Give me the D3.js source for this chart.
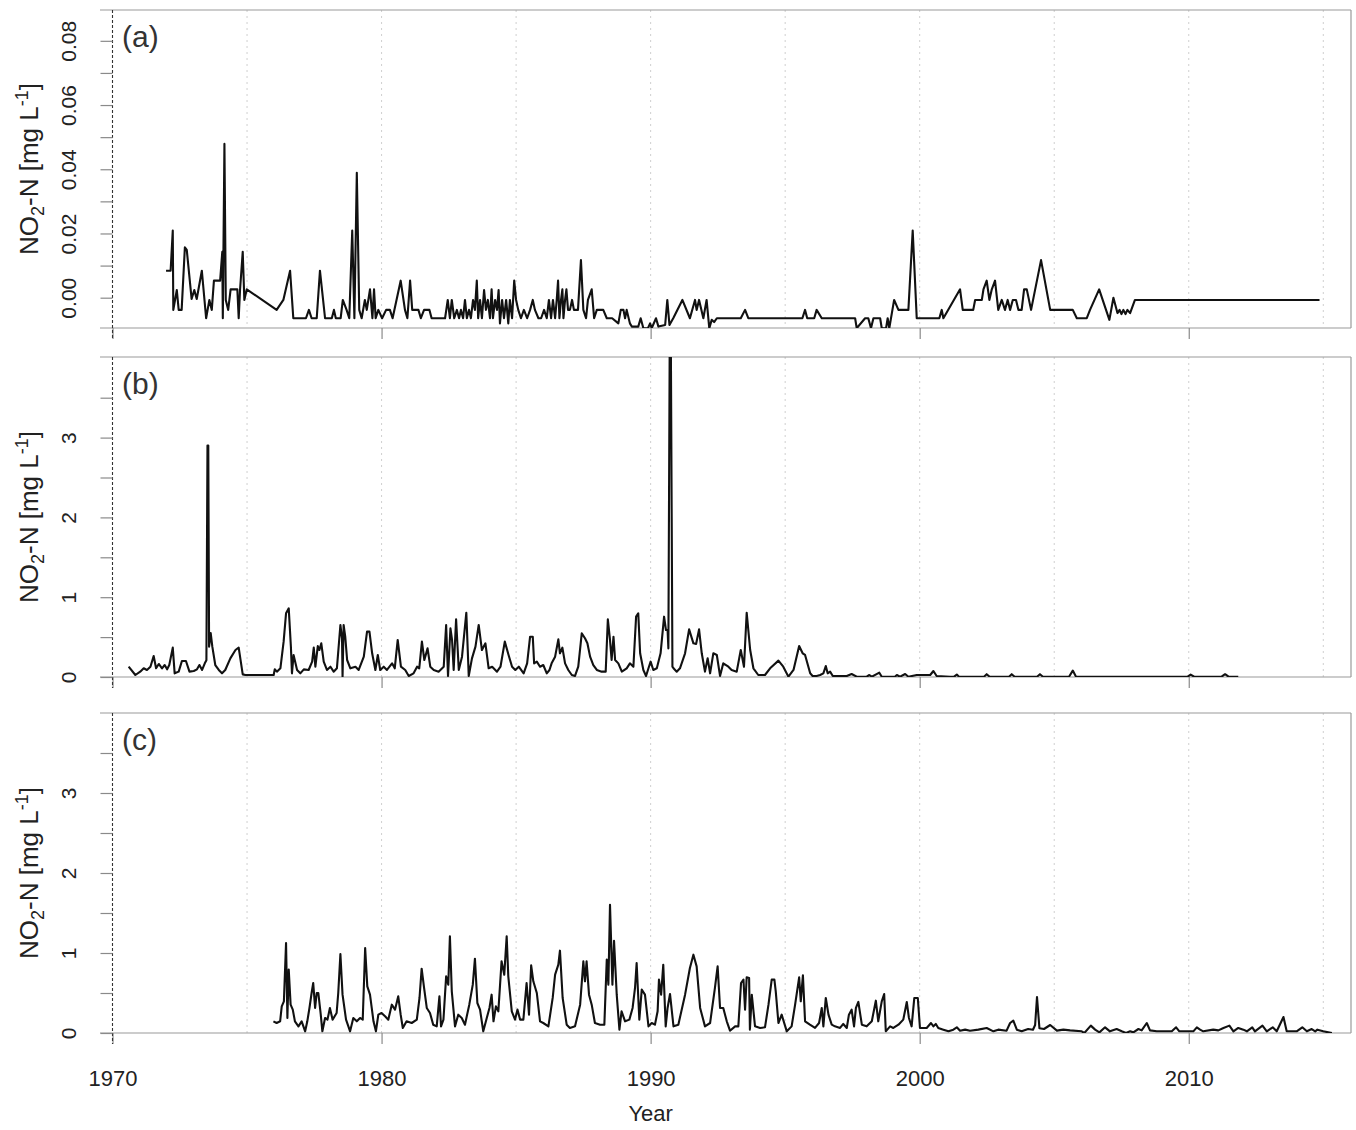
<!DOCTYPE html>
<html>
<head>
<meta charset="utf-8">
<script src="https://d3js.org/d3.v7.min.js"></script>
<style>
  body { margin: 0; background: #fff; }
  svg { display: block; font-family: "Liberation Sans", Arial, sans-serif; }
</style>
</head>
<body>
<div id="chart"></div>
<script>
// decimal year, NO2-N value
const seriesA = [
  [1971.99,0.0084],[1972.16,0.0084],[1972.24,0.0209],[1972.26,-0.0038],[1972.39,0.0024],[1972.46,-0.0038],[1972.57,-0.0038],[1972.69,0.0157],[1972.76,0.0149],[1972.94,-0.0004],[1973.04,0.0024],[1973.13,-0.0004],[1973.32,0.0084],[1973.48,-0.0064],[1973.60,-0.0007],[1973.69,-0.0038],[1973.77,0.0053],[1974.00,0.0053],[1974.08,0.0143],[1974.10,-0.0064],[1974.16,0.0479],[1974.21,-0.0007],[1974.30,-0.0038],[1974.39,0.0026],[1974.64,0.0026],[1974.69,-0.0064],[1974.74,0.0024],[1974.84,0.0143],[1974.90,-0.0007],[1974.99,0.0026],
  [1976.10,-0.0038],[1976.35,-0.0007],[1976.60,0.0084],[1976.72,-0.0064],[1977.19,-0.0064],[1977.30,-0.0038],[1977.40,-0.0064],[1977.59,-0.0064],[1977.71,0.0084],[1977.90,-0.0064],[1978.15,-0.0064],[1978.23,-0.0038],[1978.30,-0.0064],[1978.48,-0.0064],[1978.56,-0.0007],[1978.70,-0.0038],[1978.80,-0.0064],[1978.91,0.0209],[1978.99,-0.0064],[1979.08,0.0389],[1979.17,-0.0038],[1979.26,-0.0064],[1979.38,-0.0007],[1979.45,-0.0038],[1979.57,0.0026],[1979.66,-0.0064],[1979.72,0.0026],[1979.78,-0.0064],[1979.88,-0.0038],
  [1980.02,-0.0064],[1980.17,-0.0038],[1980.31,-0.0038],[1980.41,-0.0064],[1980.71,0.0053],[1980.87,-0.0038],[1980.96,-0.0064],[1981.06,0.0053],[1981.14,-0.0038],[1981.37,-0.0038],[1981.46,-0.0064],[1981.58,-0.0038],[1981.78,-0.0038],[1981.86,-0.0064],[1982.36,-0.0064],
  [1982.46,-0.0007],[1982.54,-0.0064],[1982.61,-0.0007],[1982.70,-0.0064],[1982.80,-0.0038],[1982.88,-0.0064],[1982.95,-0.0038],[1983.03,-0.0064],[1983.10,-0.0007],[1983.17,-0.0064],[1983.25,-0.0038],[1983.32,-0.0064],[1983.40,-0.0007],[1983.47,-0.0038],[1983.54,0.0053],[1983.59,-0.0064],[1983.66,-0.0007],[1983.73,-0.0064],[1983.81,0.0024],[1983.88,-0.0038],[1983.95,-0.0007],
  [1984.03,-0.0064],[1984.09,0.0026],[1984.14,-0.0064],[1984.22,-0.0007],[1984.29,-0.0038],[1984.35,0.0024],[1984.40,-0.0080],[1984.48,-0.0007],[1984.55,-0.0064],[1984.63,-0.0007],[1984.71,-0.0080],[1984.77,-0.0007],[1984.85,-0.0064],[1984.93,0.0053],[1985.00,-0.0007],[1985.08,-0.0038],[1985.18,-0.0064],[1985.29,-0.0038],[1985.41,-0.0064],[1985.52,-0.0038],[1985.62,-0.0007],[1985.70,-0.0038],[1985.83,-0.0064],[1985.93,-0.0064],
  [1986.04,-0.0038],[1986.14,-0.0064],[1986.22,-0.0007],[1986.30,-0.0064],[1986.37,-0.0007],[1986.45,-0.0064],[1986.51,-0.0007],[1986.56,0.0053],[1986.61,-0.0064],[1986.67,-0.0007],[1986.72,0.0026],[1986.76,-0.0064],[1986.82,-0.0007],[1986.87,0.0026],[1986.93,-0.0038],[1987.00,-0.0038],[1987.08,-0.0007],[1987.15,-0.0038],[1987.23,-0.0038],[1987.30,-0.0038],[1987.41,0.0117],[1987.50,-0.0038],[1987.60,-0.0064],[1987.67,-0.0007],[1987.81,0.0026],[1987.90,-0.0064],
  [1988.00,-0.0038],[1988.24,-0.0038],[1988.37,-0.0064],[1988.57,-0.0064],[1988.80,-0.0080],[1988.89,-0.0038],[1988.99,-0.0038],[1989.05,-0.0064],[1989.11,-0.0038],[1989.23,-0.0080],[1989.30,-0.0090],[1989.54,-0.0090],[1989.63,-0.0064],[1989.73,-0.0095],[1989.90,-0.0095],[1989.98,-0.0080],[1990.04,-0.0095],[1990.20,-0.0064],[1990.29,-0.0090],[1990.54,-0.0085],[1990.62,-0.0007],[1990.70,-0.0085],[1990.84,-0.0064],
  [1991.18,-0.0007],[1991.46,-0.0064],[1991.65,-0.0007],[1991.71,-0.0038],[1991.80,-0.0007],[1991.96,-0.0064],[1992.08,-0.0007],[1992.18,-0.0095],[1992.27,-0.0069],[1992.36,-0.0076],[1992.46,-0.0064],[1993.35,-0.0064],[1993.51,-0.0038],[1993.63,-0.0064],[1995.64,-0.0064],[1995.74,-0.0038],[1995.82,-0.0064],[1996.08,-0.0064],[1996.17,-0.0038],[1996.36,-0.0064],
  [1997.60,-0.0064],[1997.66,-0.0095],[1997.97,-0.0064],[1998.09,-0.0064],[1998.19,-0.0095],[1998.28,-0.0064],[1998.53,-0.0064],[1998.59,-0.0095],[1998.75,-0.0095],[1998.81,-0.0064],[1998.87,-0.0095],[1999.05,-0.0007],[1999.21,-0.0038],[1999.58,-0.0038],[1999.74,0.0209],[1999.89,-0.0064],
  [2000.73,-0.0064],[2000.82,-0.0038],[2000.88,-0.0064],[2001.50,0.0026],[2001.60,-0.0038],[2001.99,-0.0038],[2002.06,-0.0007],[2002.31,-0.0007],[2002.37,0.0026],[2002.49,0.0053],[2002.59,-0.0007],[2002.68,0.0026],[2002.80,0.0053],[2002.92,-0.0038],[2003.05,-0.0007],[2003.17,-0.0038],[2003.27,-0.0007],[2003.36,-0.0038],[2003.46,-0.0007],[2003.58,-0.0007],[2003.67,-0.0038],[2003.79,-0.0038],[2003.88,0.0026],[2003.98,0.0026],
  [2004.14,-0.0038],[2004.51,0.0117],[2004.85,-0.0038],[2005.69,-0.0038],[2005.84,-0.0064],[2006.21,-0.0064],[2006.33,-0.0038],[2006.67,0.0026],[2007.05,-0.0069],[2007.20,0.0000],[2007.35,-0.0048],[2007.43,-0.0038],[2007.50,-0.0051],[2007.57,-0.0038],[2007.65,-0.0051],[2007.72,-0.0038],[2007.82,-0.0048],[2008.00,-0.0007],[2014.86,-0.0007]
];

const seriesB = [
  [1970.60,0.13],[1970.85,0.025],[1971.03,0.067],[1971.16,0.109],[1971.28,0.088],[1971.41,0.129],[1971.53,0.263],[1971.62,0.109],[1971.72,0.163],[1971.84,0.109],[1971.94,0.15],[1972.03,0.096],[1972.11,0.15],[1972.24,0.368],[1972.31,0.046],[1972.46,0.067],[1972.58,0.2],[1972.73,0.2],[1972.86,0.067],
  [1973.02,0.075],[1973.14,0.096],[1973.23,0.15],[1973.33,0.088],[1973.43,0.171],[1973.49,0.21],[1973.53,2.9],[1973.56,2.9],[1973.59,0.38],[1973.65,0.55],[1973.71,0.38],[1973.82,0.15],[1973.95,0.088],[1974.07,0.046],[1974.19,0.088],[1974.38,0.234],[1974.57,0.338],[1974.69,0.368],[1974.84,0.033],[1974.94,0.025],
  [1975.99,0.025],[1976.03,0.096],[1976.11,0.067],[1976.24,0.109],[1976.36,0.443],[1976.45,0.798],[1976.55,0.86],[1976.63,0.38],[1976.67,0.046],[1976.73,0.276],[1976.86,0.088],[1976.98,0.046],[1977.11,0.096],[1977.29,0.088],[1977.42,0.192],[1977.48,0.368],[1977.54,0.129],[1977.63,0.388],[1977.69,0.338],[1977.76,0.422],[1977.85,0.192],[1977.97,0.088],
  [1978.10,0.129],[1978.22,0.067],[1978.34,0.109],[1978.47,0.652],[1978.53,0.485],[1978.55,0.004],[1978.59,0.652],[1978.65,0.505],[1978.72,0.213],[1978.84,0.109],[1979.03,0.129],[1979.15,0.088],[1979.34,0.255],[1979.46,0.568],[1979.55,0.568],[1979.65,0.297],[1979.77,0.088],[1979.86,0.276],[1979.95,0.088],
  [1980.08,0.129],[1980.20,0.088],[1980.39,0.171],[1980.49,0.109],[1980.60,0.464],[1980.72,0.129],[1980.88,0.088],[1981.01,0.013],[1981.19,0.046],[1981.32,0.129],[1981.40,0.109],[1981.50,0.443],[1981.59,0.213],[1981.71,0.359],[1981.81,0.129],[1981.94,0.088],
  [1982.12,0.067],[1982.31,0.129],[1982.40,0.652],[1982.47,0.013],[1982.56,0.61],[1982.62,0.464],[1982.68,0.088],[1982.77,0.723],[1982.87,0.088],[1982.99,0.255],[1983.15,0.806],[1983.24,0.013],[1983.36,0.234],[1983.49,0.38],[1983.61,0.652],[1983.73,0.338],[1983.86,0.422],[1983.98,0.109],
  [1984.11,0.129],[1984.29,0.067],[1984.42,0.129],[1984.58,0.443],[1984.72,0.276],[1984.85,0.129],[1984.97,0.088],[1985.10,0.129],[1985.28,0.046],[1985.41,0.171],[1985.52,0.505],[1985.62,0.505],[1985.67,0.171],[1985.77,0.192],[1985.89,0.129],
  [1986.01,0.15],[1986.14,0.046],[1986.24,0.088],[1986.32,0.171],[1986.45,0.255],[1986.57,0.472],[1986.63,0.297],[1986.72,0.368],[1986.82,0.171],[1986.94,0.088],[1987.07,0.025],[1987.19,0.013],[1987.31,0.129],[1987.44,0.547],[1987.56,0.485],[1987.65,0.422],[1987.75,0.255],[1987.87,0.15],
  [1988.00,0.088],[1988.18,0.067],[1988.33,0.067],[1988.41,0.723],[1988.49,0.464],[1988.55,0.213],[1988.62,0.505],[1988.68,0.213],[1988.80,0.171],[1988.93,0.067],[1989.11,0.109],[1989.23,0.171],[1989.36,0.129],[1989.46,0.756],[1989.54,0.798],[1989.61,0.297],[1989.73,0.088],[1989.83,0.013],[1989.92,0.109],
  [1990.00,0.192],[1990.10,0.088],[1990.23,0.109],[1990.37,0.297],[1990.50,0.756],[1990.57,0.589],[1990.63,0.589],[1990.66,0.359],[1990.71,4.3],[1990.75,4.3],[1990.81,0.13],[1990.85,0.109],[1990.97,0.067],
  [1991.09,0.109],[1991.28,0.297],[1991.43,0.597],[1991.59,0.422],[1991.69,0.414],[1991.80,0.597],[1991.90,0.297],[1992.02,0.067],[1992.12,0.234],[1992.21,0.046],[1992.33,0.297],[1992.46,0.276],[1992.58,0.013],[1992.70,0.171],[1992.89,0.129],
  [1993.01,0.088],[1993.20,0.067],[1993.35,0.338],[1993.47,0.129],[1993.57,0.806],[1993.70,0.338],[1993.82,0.109],[1994.00,0.025],[1994.25,0.025],[1994.44,0.109],[1994.75,0.205],[1994.93,0.129],[1995.12,0.004],[1995.31,0.088],[1995.52,0.388],[1995.65,0.297],[1995.74,0.276],[1995.93,0.046],
  [1996.02,0.013],[1996.17,0.013],[1996.30,0.025],[1996.42,0.046],[1996.51,0.138],[1996.58,0.046],[1996.67,0.067],[1996.77,0.013],[1997.29,0.013],[1997.47,0.038],[1997.66,0.004],[1998.03,0.004],[1998.13,0.025],[1998.22,0.004],[1998.50,0.054],[1998.59,0.004],
  [1999.08,0.004],[1999.15,0.025],[1999.27,0.004],[1999.46,0.038],[1999.58,0.004],[1999.89,0.025],[2000.26,0.025],[2000.39,0.025],[2000.51,0.075],[2000.63,0.013],[2001.13,0.004],[2001.28,0.004],[2001.38,0.03],[2001.46,0.004],
  [2002.39,0.004],[2002.49,0.035],[2002.60,0.004],[2003.32,0.004],[2003.42,0.035],[2003.53,0.004],[2004.36,0.004],[2004.47,0.035],[2004.58,0.004],[2005.55,0.004],[2005.69,0.08],[2005.81,0.004],
  [2009.96,0.004],[2010.07,0.03],[2010.20,0.004],[2011.22,0.004],[2011.35,0.035],[2011.48,0.004],[2011.84,0.004]
];

const seriesC = [
  [1975.98,0.146],[1976.10,0.125],[1976.23,0.146],[1976.29,0.333],[1976.37,0.396],[1976.45,1.125],[1976.50,0.188],[1976.55,0.792],[1976.62,0.354],[1976.70,0.292],[1976.78,0.146],[1976.91,0.083],[1977.03,0.146],[1977.16,0.021],[1977.24,0.146],[1977.32,0.313],[1977.40,0.5],[1977.46,0.625],[1977.53,0.313],[1977.59,0.5],[1977.65,0.5],[1977.74,0.229],[1977.80,0.021],[1977.90,0.188],[1977.99,0.167],
  [1978.08,0.313],[1978.18,0.167],[1978.33,0.25],[1978.39,0.5],[1978.47,0.988],[1978.55,0.479],[1978.68,0.167],[1978.83,0.021],[1978.95,0.188],[1979.08,0.146],[1979.20,0.188],[1979.30,0.167],[1979.39,1.063],[1979.47,0.583],[1979.57,0.479],[1979.70,0.146],[1979.79,0.021],[1979.88,0.229],
  [1980.00,0.25],[1980.13,0.208],[1980.25,0.167],[1980.38,0.354],[1980.50,0.292],[1980.62,0.458],[1980.71,0.229],[1980.79,0.063],[1980.93,0.146],[1981.12,0.125],[1981.31,0.167],[1981.41,0.438],[1981.49,0.804],[1981.58,0.563],[1981.68,0.313],[1981.80,0.25],[1981.92,0.104],
  [1982.05,0.083],[1982.15,0.458],[1982.21,0.083],[1982.30,0.167],[1982.40,0.708],[1982.48,0.604],[1982.54,1.208],[1982.61,0.521],[1982.73,0.083],[1982.85,0.229],[1982.98,0.188],[1983.10,0.104],[1983.26,0.354],[1983.39,0.604],[1983.47,0.929],[1983.56,0.375],[1983.66,0.292],[1983.78,0.021],[1983.91,0.188],
  [1984.01,0.313],[1984.09,0.479],[1984.16,0.146],[1984.25,0.333],[1984.34,0.271],[1984.46,0.896],[1984.56,0.729],[1984.65,1.208],[1984.71,0.708],[1984.84,0.271],[1984.96,0.167],[1985.05,0.292],[1985.15,0.167],[1985.27,0.167],[1985.39,0.625],[1985.48,0.229],[1985.56,0.846],[1985.64,0.646],[1985.77,0.5],[1985.89,0.146],
  [1986.01,0.125],[1986.20,0.083],[1986.36,0.438],[1986.45,0.729],[1986.57,0.854],[1986.63,1.029],[1986.73,0.438],[1986.88,0.104],[1987.00,0.063],[1987.19,0.083],[1987.38,0.354],[1987.50,0.896],[1987.56,0.646],[1987.62,0.896],[1987.71,0.479],[1987.81,0.354],[1987.93,0.125],
  [1988.12,0.104],[1988.28,0.104],[1988.37,0.917],[1988.43,0.604],[1988.49,1.604],[1988.58,0.604],[1988.64,1.154],[1988.74,0.479],[1988.84,0.042],[1988.92,0.271],[1989.05,0.146],[1989.21,0.167],[1989.33,0.313],[1989.42,0.563],[1989.48,0.875],[1989.58,0.167],[1989.67,0.542],[1989.79,0.479],[1989.92,0.083],
  [1990.04,0.125],[1990.16,0.104],[1990.26,0.271],[1990.31,0.667],[1990.39,0.479],[1990.47,0.854],[1990.56,0.083],[1990.63,0.313],[1990.72,0.488],[1990.85,0.083],[1991.03,0.104],[1991.28,0.479],[1991.46,0.813],[1991.59,0.979],[1991.71,0.833],[1991.84,0.313],
  [1992.02,0.083],[1992.21,0.125],[1992.39,0.563],[1992.49,0.833],[1992.58,0.313],[1992.70,0.313],[1992.83,0.146],[1992.95,0.029],[1993.14,0.083],[1993.26,0.083],[1993.36,0.625],[1993.45,0.667],[1993.51,0.292],[1993.57,0.696],[1993.66,0.688],[1993.69,0.042],[1993.76,0.479],[1993.88,0.083],
  [1994.07,0.063],[1994.25,0.071],[1994.38,0.354],[1994.50,0.667],[1994.60,0.667],[1994.65,0.521],[1994.75,0.125],[1994.87,0.229],[1995.06,0.021],[1995.24,0.083],[1995.37,0.354],[1995.52,0.696],[1995.58,0.396],[1995.66,0.721],[1995.74,0.146],[1995.92,0.104],
  [1996.11,0.063],[1996.26,0.125],[1996.36,0.313],[1996.42,0.083],[1996.51,0.438],[1996.61,0.229],[1996.73,0.104],[1996.85,0.083],[1997.04,0.063],[1997.16,0.113],[1997.29,0.063],[1997.37,0.229],[1997.47,0.292],[1997.56,0.083],[1997.63,0.313],[1997.72,0.388],[1997.85,0.104],
  [1998.03,0.083],[1998.22,0.146],[1998.37,0.404],[1998.46,0.146],[1998.59,0.396],[1998.68,0.488],[1998.74,0.021],[1998.90,0.083],[1999.02,0.063],[1999.21,0.104],[1999.39,0.167],[1999.52,0.388],[1999.60,0.188],[1999.70,0.083],[1999.80,0.438],[1999.93,0.438],
  [2000.01,0.063],[2000.26,0.063],[2000.42,0.125],[2000.51,0.083],[2000.60,0.113],[2000.69,0.063],[2000.88,0.042],[2001.07,0.021],[2001.25,0.042],[2001.38,0.071],[2001.50,0.029],[2001.69,0.042],[2001.87,0.029],[2002.18,0.042],[2002.49,0.063],[2002.74,0.021],[2002.92,0.042],
  [2003.23,0.029],[2003.36,0.125],[2003.48,0.154],[2003.61,0.042],[2003.79,0.021],[2004.03,0.05],[2004.21,0.04],[2004.29,0.1],[2004.36,0.45],[2004.45,0.06],[2004.62,0.05],[2004.85,0.1],[2005.10,0.03],[2005.34,0.042],[2005.59,0.033],
  [2006.02,0.021],[2006.12,0.0],[2006.36,0.092],[2006.52,0.042],[2006.68,0.008],[2006.89,0.071],[2007.07,0.021],[2007.32,0.05],[2007.51,0.021],[2007.67,0.0],[2007.82,0.021],[2007.94,0.008],[2008.13,0.05],[2008.25,0.033],[2008.44,0.125],[2008.56,0.033],[2008.81,0.021],
  [2009.37,0.021],[2009.53,0.071],[2009.65,0.021],[2010.17,0.021],[2010.30,0.071],[2010.42,0.042],[2010.54,0.021],[2010.91,0.042],[2011.10,0.033],[2011.29,0.063],[2011.51,0.092],[2011.66,0.021],[2011.84,0.063],
  [2012.03,0.042],[2012.16,0.021],[2012.36,0.071],[2012.46,0.021],[2012.74,0.092],[2012.90,0.021],[2013.12,0.071],[2013.27,0.021],[2013.52,0.2],[2013.64,0.021],[2014.01,0.021],[2014.22,0.071],[2014.39,0.021],[2014.57,0.05],[2014.70,0.021],[2014.78,0.042],[2015.00,0.021],[2015.32,0.0]
];

const X_TICKS = [1970, 1980, 1990, 2000, 2010];
const GRID_YEARS = [1975, 1980, 1985, 1990, 1995, 2000, 2005, 2010, 2015];
const TICKS_A = [0, 0.01, 0.02, 0.03, 0.04, 0.05, 0.06, 0.07, 0.08];
const LABELS_A = [0, 0.02, 0.04, 0.06, 0.08];
const TICKS_BC = [0, 0.5, 1, 1.5, 2, 2.5, 3, 3.5];
const LABELS_BC = [0, 1, 2, 3];
const PANEL_LETTERS = ['(a)', '(b)', '(c)'];

const W = 1356, H = 1130;
const LEFT = 112.5, RIGHT = 1351;
const FONT = '"Liberation Sans", Arial, sans-serif';

const svg = d3.select('#chart')
  .append('svg')
  .attr('width', W)
  .attr('height', H);

const x = d3.scaleLinear().domain([1970, 2016.03]).range([LEFT, RIGHT]);

const panels = [
  { data: seriesA, top: 10, bottom: 328, domain: [-0.00944, 0.0896], ticks: TICKS_A, labels: LABELS_A, fmt: d3.format('.2f') },
  { data: seriesB, top: 357, bottom: 677, domain: [0, 4.01], ticks: TICKS_BC, labels: LABELS_BC, fmt: d3.format('d') },
  { data: seriesC, top: 713, bottom: 1033, domain: [0, 4.0], ticks: TICKS_BC, labels: LABELS_BC, fmt: d3.format('d') },
];

panels.forEach((p, i) => {
  const y = d3.scaleLinear().domain(p.domain).range([p.bottom, p.top]);
  const g = svg.append('g');

  // dotted vertical grid
  g.selectAll('line.grid')
    .data(GRID_YEARS)
    .join('line')
    .attr('class', 'grid')
    .attr('x1', (d) => x(d)).attr('x2', (d) => x(d))
    .attr('y1', p.top).attr('y2', p.bottom)
    .attr('stroke', '#cfcfcf')
    .attr('stroke-width', 1)
    .attr('stroke-dasharray', '2,4');

  // box: top, bottom, right
  g.append('line').attr('x1', 100).attr('x2', RIGHT).attr('y1', p.top).attr('y2', p.top)
    .attr('stroke', '#9a9a9a').attr('stroke-width', 1.2);
  g.append('line').attr('x1', 100).attr('x2', RIGHT).attr('y1', p.bottom).attr('y2', p.bottom)
    .attr('stroke', '#9a9a9a').attr('stroke-width', 1.2);
  g.append('line').attr('x1', RIGHT).attr('x2', RIGHT).attr('y1', p.top).attr('y2', p.bottom)
    .attr('stroke', '#9a9a9a').attr('stroke-width', 1.2);

  // x ticks
  const xAxis = g.append('g')
    .attr('transform', `translate(0,${p.bottom})`)
    .call(d3.axisBottom(x).tickValues(X_TICKS).tickSize(11).tickFormat(i === 2 ? d3.format('d') : ''));
  xAxis.select('.domain').remove();
  xAxis.selectAll('.tick line').attr('stroke', '#8a8a8a').attr('stroke-width', 1.2);
  xAxis.selectAll('.tick text')
    .attr('fill', '#222')
    .attr('font-family', FONT)
    .attr('font-size', 22)
    .attr('dy', null)
    .attr('y', 53);

  // dashed left line at 1970
  g.append('line')
    .attr('x1', x(1970)).attr('x2', x(1970))
    .attr('y1', p.top).attr('y2', p.bottom + 11)
    .attr('stroke', '#333')
    .attr('stroke-width', 1.1)
    .attr('stroke-dasharray', '3,2');

  // y ticks with rotated labels
  const yAxis = g.append('g')
    .attr('transform', `translate(${LEFT},0)`)
    .call(d3.axisLeft(y).tickValues(p.ticks).tickSize(12)
      .tickFormat((d) => (p.labels.some((l) => Math.abs(l - d) < 1e-9) ? p.fmt(d) : '')));
  yAxis.select('.domain').remove();
  yAxis.selectAll('.tick line').attr('stroke', '#8a8a8a').attr('stroke-width', 1.2);
  yAxis.selectAll('.tick text')
    .attr('fill', '#222')
    .attr('font-family', FONT)
    .attr('font-size', 21)
    .attr('text-anchor', 'middle')
    .attr('x', 0)
    .attr('dy', null)
    .attr('y', -37)
    .attr('transform', 'rotate(-90)');

  // y title
  const title = g.append('text')
    .attr('transform', `translate(38,${(p.top + p.bottom) / 2}) rotate(-90)`)
    .attr('text-anchor', 'middle')
    .attr('font-family', FONT)
    .attr('font-size', 26)
    .attr('fill', '#222');
  title.append('tspan').text('NO');
  title.append('tspan').attr('font-size', 18).attr('dy', 6).text('2');
  title.append('tspan').attr('dy', -6).text('-N [mg L');
  title.append('tspan').attr('font-size', 18).attr('dy', -10).text('-1');
  title.append('tspan').attr('dy', 10).text(']');

  // panel letter
  g.append('text')
    .attr('x', 122)
    .attr('y', p.top + 37)
    .attr('font-family', FONT)
    .attr('font-size', 30)
    .attr('fill', '#333')
    .text(PANEL_LETTERS[i]);

  // data line clipped to the panel
  const clipId = `clip-${i}`;
  svg.append('clipPath').attr('id', clipId)
    .append('rect')
    .attr('x', LEFT).attr('y', p.top)
    .attr('width', RIGHT - LEFT).attr('height', p.bottom - p.top);

  const line = d3.line().x((d) => x(d[0])).y((d) => y(d[1]));
  g.append('path')
    .datum(p.data)
    .attr('clip-path', `url(#${clipId})`)
    .attr('fill', 'none')
    .attr('stroke', '#111')
    .attr('stroke-width', 2.1)
    .attr('stroke-linejoin', 'round')
    .attr('d', line);
});

svg.append('text')
  .attr('x', x(1990))
  .attr('y', 1121)
  .attr('text-anchor', 'middle')
  .attr('font-family', FONT)
  .attr('font-size', 22)
  .attr('fill', '#222')
  .text('Year');
</script>
</body>
</html>
